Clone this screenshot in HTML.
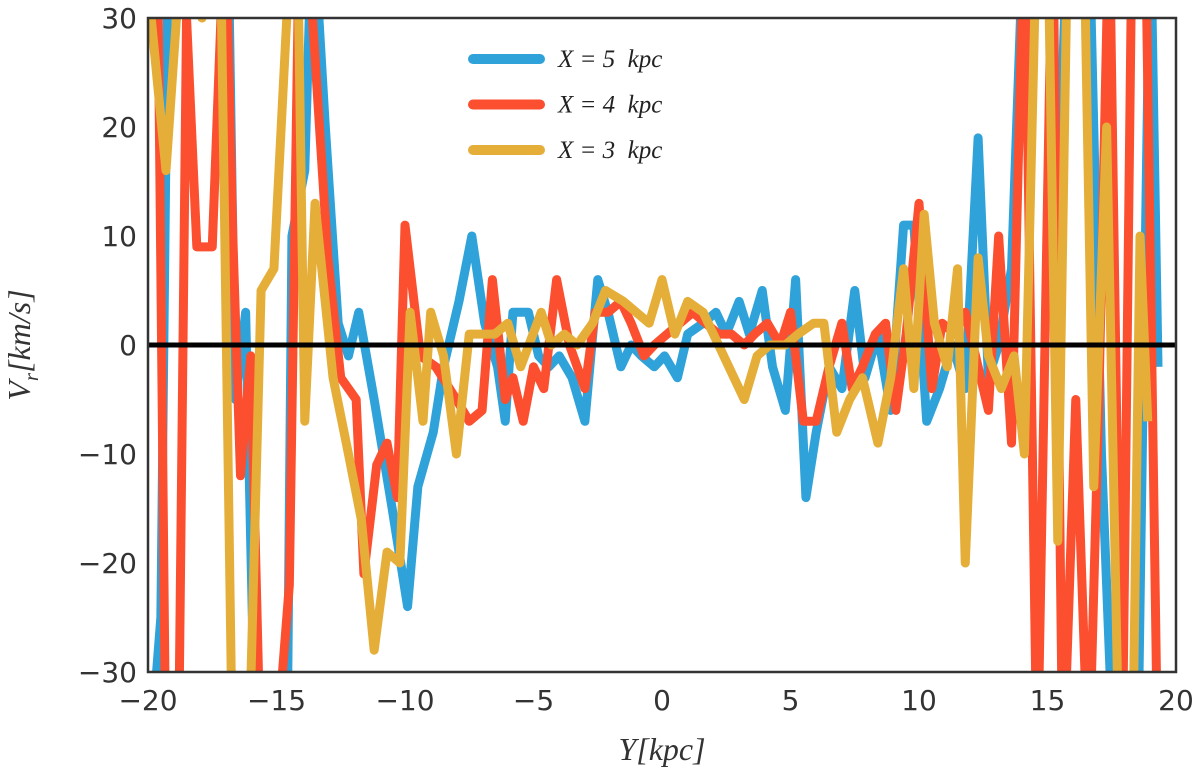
<!DOCTYPE html>
<html><head><meta charset="utf-8"><style>
body{margin:0;background:#fff}
svg{display:block;font-family:"DejaVu Sans","Liberation Sans",sans-serif}
.tk{font-size:28px;fill:#333}
.m{font-family:"Liberation Serif",serif;font-style:italic}
</style></head><body>
<svg id="c" width="1200" height="774">
<defs><clipPath id="cp"><rect x="148" y="18" width="1028" height="654"/></clipPath></defs>
<g id="plot" clip-path="url(#cp)"></g>
<rect x="148" y="18" width="1028" height="654" fill="none" stroke="#333" stroke-width="2.5"/>
<g id="ticks"></g>
<text x="662" y="760" text-anchor="middle" font-size="32" class="m" fill="#333">Y[kpc]</text>
<text transform="translate(30,345) rotate(-90)" text-anchor="middle" font-size="32" class="m" fill="#333">V<tspan font-size="21" dy="8">r</tspan><tspan dy="-8">[km/s]</tspan></text>
<g id="legend"></g>
</svg>
<script>
const xTicks=[-20,-15,-10,-5,0,5,10,15,20];
const yTicks=[-30,-20,-10,0,10,20,30];
const seriesNames=["X = 5  kpc","X = 4  kpc","X = 3  kpc"];
const seriesColors=["#30a2da","#fc4f30","#e5ae38"];
const blueData=[[-20,-40],[-19.5,-25],[-19.2,40],[-18.7,40],[-17.4,40],[-16.9,40],[-16.6,-5],[-16.2,3],[-15.8,-40],[-15.3,-40],[-14.6,-40],[-14.4,10],[-13.9,16],[-13.6,40],[-13.1,20],[-12.6,2],[-12.2,-1],[-11.8,3],[-11.2,-5],[-10.5,-15],[-9.9,-24],[-9.5,-13],[-8.9,-8],[-8.5,-2],[-7.9,4],[-7.4,10],[-6.9,2],[-6.4,-2],[-6.1,-7],[-5.8,3],[-5.2,3],[-4.8,-1],[-4.4,-2],[-4.0,-1],[-3.5,-3],[-3.0,-7],[-2.5,6],[-2.1,3],[-1.6,-2],[-1.2,0],[-0.8,-1],[-0.3,-2],[0.1,-1],[0.6,-3],[1.0,1],[1.6,2],[2.1,3],[2.5,1],[3.0,4],[3.4,1],[3.9,5],[4.3,-2],[4.8,-6],[5.2,6],[5.6,-14],[6.0,-8],[6.5,-2],[7.0,-4],[7.5,5],[7.9,-3],[8.4,1],[8.9,-6],[9.4,11],[9.8,11],[10.3,-7],[10.8,-4],[11.3,0],[11.8,-4],[12.3,19],[12.7,-3],[13.1,0],[13.6,7],[14.1,40],[14.6,40],[15.0,40],[15.3,4],[15.8,40],[16.1,40],[16.6,40],[17.1,-10],[17.6,-40],[18.1,-40],[18.5,-40],[19.0,40],[19.3,-2]];
const redData=[[-20,40],[-19.6,30],[-19.3,-40],[-18.8,-35],[-18.5,30],[-18.1,9],[-17.5,9],[-17.0,40],[-16.7,10],[-16.4,-12],[-16.0,-1],[-15.6,-40],[-15.1,-40],[-14.5,-22],[-14.1,40],[-13.6,30],[-13.0,8],[-12.5,-3],[-11.9,-5],[-11.6,-21],[-11.1,-11],[-10.7,-9],[-10.3,-14],[-10.0,11],[-9.4,-1],[-8.8,-2],[-8.0,-5],[-7.5,-7],[-7.0,-6],[-6.6,6],[-6.1,-5],[-5.8,-3],[-5.4,-7],[-5.0,-2],[-4.6,-4],[-4.1,6],[-3.6,0],[-3.0,-4],[-2.6,3],[-2.1,3],[-1.6,4],[-1.2,2],[-0.7,-1],[-0.3,0],[0.2,1],[0.7,2],[1.2,3],[1.7,2],[2.2,1],[2.7,1],[3.2,0],[3.6,1],[4.1,2],[4.6,0],[5.0,3],[5.5,-7],[6.0,-7],[6.5,-2],[7.0,2],[7.4,-4],[7.8,-2],[8.3,1],[8.7,2],[9.1,-6],[9.5,1],[10.0,13],[10.5,-4],[10.9,2],[11.4,1],[11.8,3],[12.3,-2],[12.7,-6],[13.1,10],[13.6,-9],[14.1,40],[14.6,-40],[15.2,40],[15.6,-40],[16.1,-5],[16.6,-40],[17.0,-5],[17.4,40],[17.9,-40],[18.3,40],[18.8,40],[19.3,-40]];
const yellowData=[[-20,33],[-19.3,16],[-18.6,40],[-17.9,30],[-17.2,40],[-16.7,-40],[-16.1,-40],[-15.6,5],[-15.1,7],[-14.6,30],[-14.2,40],[-13.9,-7],[-13.5,13],[-12.8,-3],[-12.2,-10],[-11.7,-16],[-11.2,-28],[-10.7,-19],[-10.2,-20],[-9.8,3],[-9.3,-7],[-9.0,3],[-8.5,-1],[-8.0,-10],[-7.5,1],[-7.0,1],[-6.5,1],[-6.0,2],[-5.5,-2],[-4.7,3],[-4.3,0],[-3.8,1],[-3.3,0],[-2.7,2],[-2.2,5],[-1.5,4],[-1.0,3],[-0.5,2],[0.0,6],[0.5,1],[1.0,4],[1.6,3],[2.2,0],[3.2,-5],[3.7,-1],[4.2,0],[4.8,0],[5.3,1],[5.9,2],[6.3,2],[6.8,-8],[7.3,-5],[7.8,-3],[8.4,-9],[8.9,-3],[9.4,7],[9.8,-4],[10.2,12],[10.6,2],[11.1,-2],[11.5,7],[11.8,-20],[12.3,8],[12.7,-1],[13.2,-4],[13.7,-1],[14.1,-10],[14.6,40],[15.0,40],[15.4,-18],[15.8,40],[16.4,40],[16.8,-13],[17.3,20],[17.8,-40],[18.3,-40],[18.6,10],[18.9,-7]];
const NS="http://www.w3.org/2000/svg";
const X0=148,X1=1176,Y0=672,Y1=18;
const sx=v=>X0+(v+20)/40*(X1-X0);
const sy=v=>Y0-(v+30)/60*(Y0-Y1);
const plot=document.getElementById('plot');
const all=[blueData,redData,yellowData];
all.forEach((d,i)=>{
  const p=document.createElementNS(NS,'polyline');
  p.setAttribute('points',d.map(q=>sx(q[0])+','+sy(q[1])).join(' '));
  p.setAttribute('fill','none');p.setAttribute('stroke',seriesColors[i]);
  p.setAttribute('stroke-width','9');p.setAttribute('stroke-linejoin','round');
  
  
  plot.appendChild(p);
});
const z=document.createElementNS(NS,'line');
z.setAttribute('x1',X0);z.setAttribute('x2',X1);z.setAttribute('y1',sy(0));z.setAttribute('y2',sy(0));
z.setAttribute('stroke','#000');z.setAttribute('stroke-width','5');


plot.appendChild(z);
const tg=document.getElementById('ticks');
xTicks.forEach(v=>{
  const t=document.createElementNS(NS,'text');
  t.setAttribute('x',sx(v));t.setAttribute('y',710);t.setAttribute('text-anchor','middle');t.setAttribute('class','tk');
  t.textContent=v<0?'\u2212'+(-v):v;
  
  
  tg.appendChild(t);
});
yTicks.forEach(v=>{
  const t=document.createElementNS(NS,'text');
  t.setAttribute('x',137);t.setAttribute('y',sy(v)+10);t.setAttribute('text-anchor','end');t.setAttribute('class','tk');
  t.textContent=v<0?'\u2212'+(-v):v;
  
  
  tg.appendChild(t);
});
const lg=document.getElementById('legend');
seriesNames.forEach((n,i)=>{
  const y=59+i*45.5;
  const l=document.createElementNS(NS,'line');
  l.setAttribute('x1',473);l.setAttribute('x2',540);l.setAttribute('y1',y);l.setAttribute('y2',y);
  l.setAttribute('stroke',seriesColors[i]);l.setAttribute('stroke-width','10');l.setAttribute('stroke-linecap','round');
  
  
  lg.appendChild(l);
  const t=document.createElementNS(NS,'text');
  t.setAttribute('x',558);t.setAttribute('y',y+8);t.setAttribute('font-size','25');t.setAttribute('class','m');t.setAttribute('fill','#222');
  t.setAttribute('xml:space','preserve');t.style.whiteSpace='pre';
  t.textContent=n;
  
  
  lg.appendChild(t);
});
</script>
</body></html>
